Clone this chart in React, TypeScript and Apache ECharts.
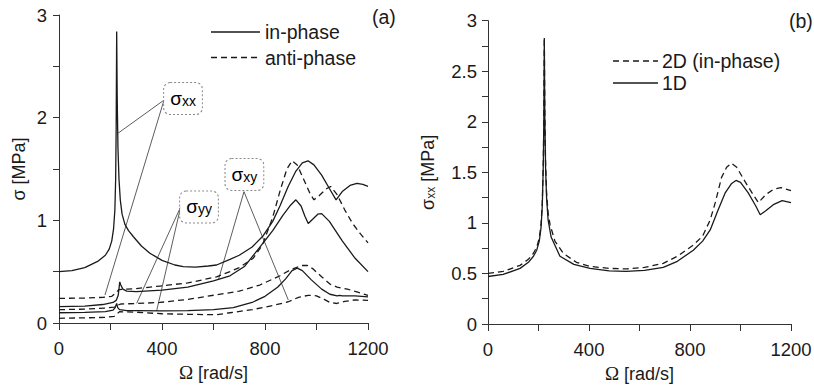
import React, { useEffect, useRef } from 'react';
import * as echarts from 'echarts';

// ---------- Panel (a) data : Ω [rad/s] vs σ [MPa] ----------
const omegaXxIn = [0, 50, 100, 150, 180, 195, 205, 212, 217, 220, 222, 224, 226, 229, 233, 238, 245, 256, 270, 289, 320, 353, 400, 450, 483, 530, 580, 612, 664, 700, 750, 793, 830, 858, 890, 920, 945, 967, 990, 1020, 1050, 1076, 1100, 1130, 1157, 1180, 1200];
const sxxIn = [0.5, 0.51, 0.54, 0.6, 0.66, 0.72, 0.8, 0.92, 1.1, 1.4, 1.9, 2.84, 2.2, 1.7, 1.4, 1.2, 1.06, 0.96, 0.9, 0.84, 0.75, 0.68, 0.61, 0.565, 0.55, 0.545, 0.555, 0.565, 0.62, 0.66, 0.74, 0.85, 0.99, 1.14, 1.33, 1.48, 1.56, 1.58, 1.54, 1.44, 1.31, 1.2, 1.28, 1.34, 1.36, 1.35, 1.33];

const omegaXxAnti = [0, 100, 170, 205, 220, 232, 260, 300, 392, 500, 612, 664, 700, 754, 790, 830, 860, 885, 905, 925, 950, 975, 990, 1010, 1040, 1055, 1080, 1110, 1140, 1170, 1200];
const sxxAnti = [0.24, 0.243, 0.25, 0.26, 0.29, 0.325, 0.33, 0.335, 0.36, 0.39, 0.45, 0.5, 0.54, 0.63, 0.76, 1.03, 1.3, 1.5, 1.58, 1.54, 1.4, 1.26, 1.2, 1.24, 1.31, 1.33, 1.25, 1.1, 0.97, 0.87, 0.78];

const omegaXyIn = [0, 100, 170, 210, 222, 230, 236, 240, 248, 263, 300, 400, 500, 600, 664, 720, 793, 830, 870, 900, 920, 940, 955, 968, 985, 1005, 1020, 1050, 1100, 1150, 1200];
const sxyIn = [0.16, 0.165, 0.18, 0.2, 0.22, 0.27, 0.4, 0.37, 0.33, 0.31, 0.305, 0.32, 0.35, 0.41, 0.46, 0.55, 0.78, 0.9, 1.05, 1.15, 1.2, 1.14, 1.04, 0.97, 1.01, 1.06, 1.065, 0.99, 0.8, 0.63, 0.5];

const omegaXyAnti = [0, 100, 180, 215, 225, 235, 300, 400, 500, 612, 664, 750, 830, 890, 930, 968, 1000, 1030, 1052, 1078, 1110, 1150, 1200];
const sxyAnti = [0.046, 0.05, 0.055, 0.065, 0.09, 0.11, 0.105, 0.09, 0.085, 0.08, 0.1, 0.13, 0.17, 0.207, 0.25, 0.27, 0.265, 0.23, 0.2, 0.19, 0.21, 0.225, 0.22];

const omegaYyIn = [0, 100, 180, 210, 218, 224, 228, 235, 263, 300, 400, 500, 600, 677, 750, 800, 850, 880, 905, 925, 945, 980, 1020, 1052, 1080, 1090, 1100, 1150, 1200];
const syyIn = [0.1, 0.103, 0.11, 0.125, 0.15, 0.19, 0.15, 0.13, 0.12, 0.12, 0.118, 0.12, 0.13, 0.15, 0.2, 0.26, 0.35, 0.43, 0.51, 0.535, 0.51, 0.42, 0.33, 0.28, 0.265, 0.27, 0.265, 0.265, 0.255];

const omegaYyAnti = [0, 100, 180, 215, 225, 240, 300, 392, 500, 612, 700, 780, 858, 900, 942, 965, 985, 1020, 1052, 1080, 1120, 1160, 1200];
const syyAnti = [0.13, 0.135, 0.145, 0.155, 0.17, 0.185, 0.19, 0.2, 0.23, 0.275, 0.31, 0.37, 0.46, 0.52, 0.56, 0.56, 0.53, 0.45, 0.38, 0.35, 0.33, 0.3, 0.27];

// callouts (data coordinates of panel a): box centre, leader origin, leader ends
const calloutNames = ['xx', 'yy', 'xy'];
const calloutBox = [[481.6, 2.186], [543.7, 1.13], [720, 1.446]];
const calloutOrigin = [[407.8, 2.171], [472.6, 1.132], [718.4, 1.279]];
const calloutEndA = [[230, 1.85], [301.7, 0.192], [618.8, 0.419]];
const calloutEndB = [[178.6, 0.273], [379.4, 0.12], [890.5, 0.224]];

// ---------- Panel (b) data : Ω [rad/s] vs σxx [MPa] ----------
const omega2D = [0, 60, 127, 160, 180, 193, 203, 210, 215, 219, 221, 223, 225, 228, 232, 238, 246, 265, 298, 350, 404, 480, 550, 620, 694, 750, 813, 850, 880, 900, 925, 945, 964, 985, 1020, 1050, 1071, 1100, 1130, 1160, 1200];
const s2D = [0.5, 0.52, 0.58, 0.64, 0.7, 0.76, 0.85, 0.98, 1.2, 1.6, 2.0, 2.83, 2.1, 1.6, 1.3, 1.1, 0.98, 0.82, 0.7, 0.61, 0.57, 0.55, 0.545, 0.56, 0.6, 0.67, 0.78, 0.87, 1.03, 1.2, 1.45, 1.55, 1.59, 1.55, 1.4, 1.28, 1.2, 1.28, 1.33, 1.35, 1.32];

const omega1D = [0, 60, 127, 160, 180, 193, 203, 210, 215, 219, 221, 223, 225, 228, 232, 238, 250, 285, 340, 404, 480, 547, 620, 694, 750, 813, 850, 880, 910, 940, 965, 982, 1000, 1030, 1060, 1078, 1100, 1130, 1165, 1200];
const s1D = [0.47, 0.49, 0.55, 0.61, 0.67, 0.73, 0.82, 0.95, 1.17, 1.57, 1.97, 2.83, 2.05, 1.55, 1.25, 1.03, 0.86, 0.67, 0.59, 0.55, 0.525, 0.52, 0.53, 0.56, 0.62, 0.73, 0.82, 0.93, 1.12, 1.3, 1.39, 1.42, 1.4, 1.3, 1.17, 1.08, 1.12, 1.18, 1.22, 1.2];

const legendA = ['in-phase', 'anti-phase'];
const legendB = ['2D (in-phase)', '1D'];

const zip = (xs: number[], ys: number[]) => xs.map((x, i) => [x, ys[i]]);

const SANS = 'Liberation Sans, Arial, sans-serif';
const SERIF = 'Liberation Serif, Times New Roman, serif';
const INK = '#1a1a1a';
const AXIS = '#333';
const DASH = [6, 4];

export default function App() {
  const ref = useRef<HTMLDivElement>(null);

  useEffect(() => {
    if (!ref.current) return;
    const chart = echarts.init(ref.current, null, { renderer: 'svg' });

    const curve = (name: string, xs: number[], ys: number[], dashed: boolean, axis: number) => ({
      name,
      type: 'line',
      xAxisIndex: axis,
      yAxisIndex: axis,
      data: zip(xs, ys),
      showSymbol: false,
      symbol: 'none',
      silent: true,
      lineStyle: { color: INK, width: 1.3, type: dashed ? DASH : 'solid' },
      z: 3,
    });

    const leaders = calloutNames.map((n, i) => ({
      type: 'line',
      xAxisIndex: 0,
      yAxisIndex: 0,
      data: [calloutEndA[i], calloutOrigin[i], calloutEndB[i]],
      showSymbol: false,
      symbol: 'none',
      silent: true,
      lineStyle: { color: '#333', width: 0.8 },
      z: 2,
    }));

    const boxes = {
      type: 'scatter',
      xAxisIndex: 0,
      yAxisIndex: 0,
      symbol: 'circle',
      symbolSize: 2,
      itemStyle: { color: 'rgba(0,0,0,0)' },
      silent: true,
      z: 6,
      data: calloutNames.map((n, i) => ({ name: n, value: calloutBox[i] })),
      label: {
        show: true,
        position: 'inside',
        formatter: (p: any) => `{s|σ}{sub|${p.name}}`,
        backgroundColor: '#fff',
        borderColor: '#8a8a8a',
        borderWidth: 1,
        borderType: 'dotted',
        borderRadius: 6,
        padding: [6, 6, 6, 6],
        color: '#000',
        textBorderWidth: 0,
        opacity: 1,
        rich: {
          s: { fontSize: 19, fontFamily: SANS, color: '#000', textBorderWidth: 0 },
          sub: { fontSize: 14, fontFamily: SANS, color: '#000', textBorderWidth: 0, verticalAlign: 'bottom' },
        },
      },
    };

    const xAxisBase = (gridIndex: number) => ({
      gridIndex,
      type: 'value',
      min: 0,
      max: 1200,
      interval: 200,
      axisLine: { show: true, onZero: false, lineStyle: { color: AXIS, width: 1 } },
      axisTick: { show: true, length: 7, lineStyle: { color: AXIS, width: 1 } },
      axisLabel: {
        formatter: (v: number) => (v % 400 === 0 ? String(v) : ''),
        fontSize: 18.5,
        fontFamily: SANS,
        color: INK,
        margin: 16,
      },
      splitLine: { show: false },
      name: '{o|Ω} [rad/s]',
      nameLocation: 'middle',
      nameGap: 40,
      nameTextStyle: {
        fontSize: 18,
        fontFamily: SANS,
        color: INK,
        rich: { o: { fontSize: 19, fontFamily: SERIF, color: INK } },
      },
    });

    const option: any = {
      animation: false,
      backgroundColor: '#ffffff',
      grid: [
        { left: 59, top: 15, width: 309, height: 308, containLabel: false, outerBoundsMode: 'none' },
        { left: 488, top: 20.7, width: 303, height: 303.3, containLabel: false, outerBoundsMode: 'none' },
      ],
      xAxis: [xAxisBase(0), xAxisBase(1)],
      yAxis: [
        {
          gridIndex: 0,
          type: 'value',
          min: 0,
          max: 3,
          interval: 0.5,
          axisLine: { show: true, onZero: false, lineStyle: { color: AXIS, width: 1 } },
          axisTick: { show: true, length: 6, lineStyle: { color: AXIS, width: 1 } },
          axisLabel: {
            formatter: (v: number) => (Number.isInteger(v) ? String(v) : ''),
            fontSize: 18.5,
            fontFamily: SANS,
            color: INK,
            margin: 12,
          },
          splitLine: { show: false },
          name: 'σ [MPa]',
          nameLocation: 'middle',
          nameRotate: 90,
          nameGap: 31,
          nameTextStyle: { fontSize: 18, fontFamily: SANS, color: INK },
        },
        {
          gridIndex: 1,
          type: 'value',
          min: 0,
          max: 3,
          interval: 0.25,
          axisLine: { show: true, onZero: false, lineStyle: { color: AXIS, width: 1 } },
          axisTick: { show: true, length: 6, lineStyle: { color: AXIS, width: 1 } },
          axisLabel: {
            formatter: (v: number) => (Number.isInteger(v * 2) ? String(v) : ''),
            fontSize: 18.5,
            fontFamily: SANS,
            color: INK,
            margin: 11,
          },
          splitLine: { show: false },
          name: '{s|σ}{sub|xx} [MPa]',
          nameLocation: 'middle',
          nameRotate: 90,
          nameGap: 51,
          nameTextStyle: {
            fontSize: 18,
            fontFamily: SANS,
            color: INK,
            rich: {
              s: { fontSize: 18, fontFamily: SANS, color: INK },
              sub: { fontSize: 12, fontFamily: SANS, color: INK, verticalAlign: 'bottom' },
            },
          },
        },
      ],
      series: [
        curve('σxx in-phase', omegaXxIn, sxxIn, false, 0),
        curve('σxx anti-phase', omegaXxAnti, sxxAnti, true, 0),
        curve('σxy in-phase', omegaXyIn, sxyIn, false, 0),
        curve('σxy anti-phase', omegaXyAnti, sxyAnti, true, 0),
        curve('σyy in-phase', omegaYyIn, syyIn, false, 0),
        curve('σyy anti-phase', omegaYyAnti, syyAnti, true, 0),
        ...leaders,
        boxes,
        curve('2D (in-phase)', omega2D, s2D, true, 1),
        curve('1D', omega1D, s1D, false, 1),
      ],
      graphic: [
        // legend of panel (a)
        { type: 'line', shape: { x1: 211, y1: 32, x2: 260, y2: 32 }, style: { stroke: INK, lineWidth: 1.3 } },
        { type: 'text', x: 265, y: 32, style: { text: legendA[0], fontSize: 19.5, fontFamily: SANS, fill: INK, verticalAlign: 'middle' } },
        { type: 'line', shape: { x1: 211, y1: 57.5, x2: 258, y2: 57.5 }, style: { stroke: INK, lineWidth: 1.3, lineDash: DASH } },
        { type: 'text', x: 265, y: 57.5, style: { text: legendA[1], fontSize: 19.5, fontFamily: SANS, fill: INK, verticalAlign: 'middle' } },
        // legend of panel (b)
        { type: 'line', shape: { x1: 613, y1: 61, x2: 658, y2: 61 }, style: { stroke: INK, lineWidth: 1.3, lineDash: DASH } },
        { type: 'text', x: 662, y: 61, style: { text: legendB[0], fontSize: 19.5, fontFamily: SANS, fill: INK, verticalAlign: 'middle' } },
        { type: 'line', shape: { x1: 613, y1: 83, x2: 658, y2: 83 }, style: { stroke: INK, lineWidth: 1.3 } },
        { type: 'text', x: 662, y: 83, style: { text: legendB[1], fontSize: 19.5, fontFamily: SANS, fill: INK, verticalAlign: 'middle' } },
        // panel letters
        { type: 'text', x: 372, y: 17, style: { text: '(a)', fontSize: 19.5, fontFamily: SANS, fill: INK, verticalAlign: 'middle' } },
        { type: 'text', x: 789, y: 21, style: { text: '(b)', fontSize: 19.5, fontFamily: SANS, fill: INK, verticalAlign: 'middle' } },
      ],
    };

    chart.setOption(option);
    return () => chart.dispose();
  }, []);

  return (
    <div
      ref={ref}
      style={{ position: 'fixed', left: 0, top: 0, width: 814, height: 389, background: '#fff' }}
    />
  );
}
